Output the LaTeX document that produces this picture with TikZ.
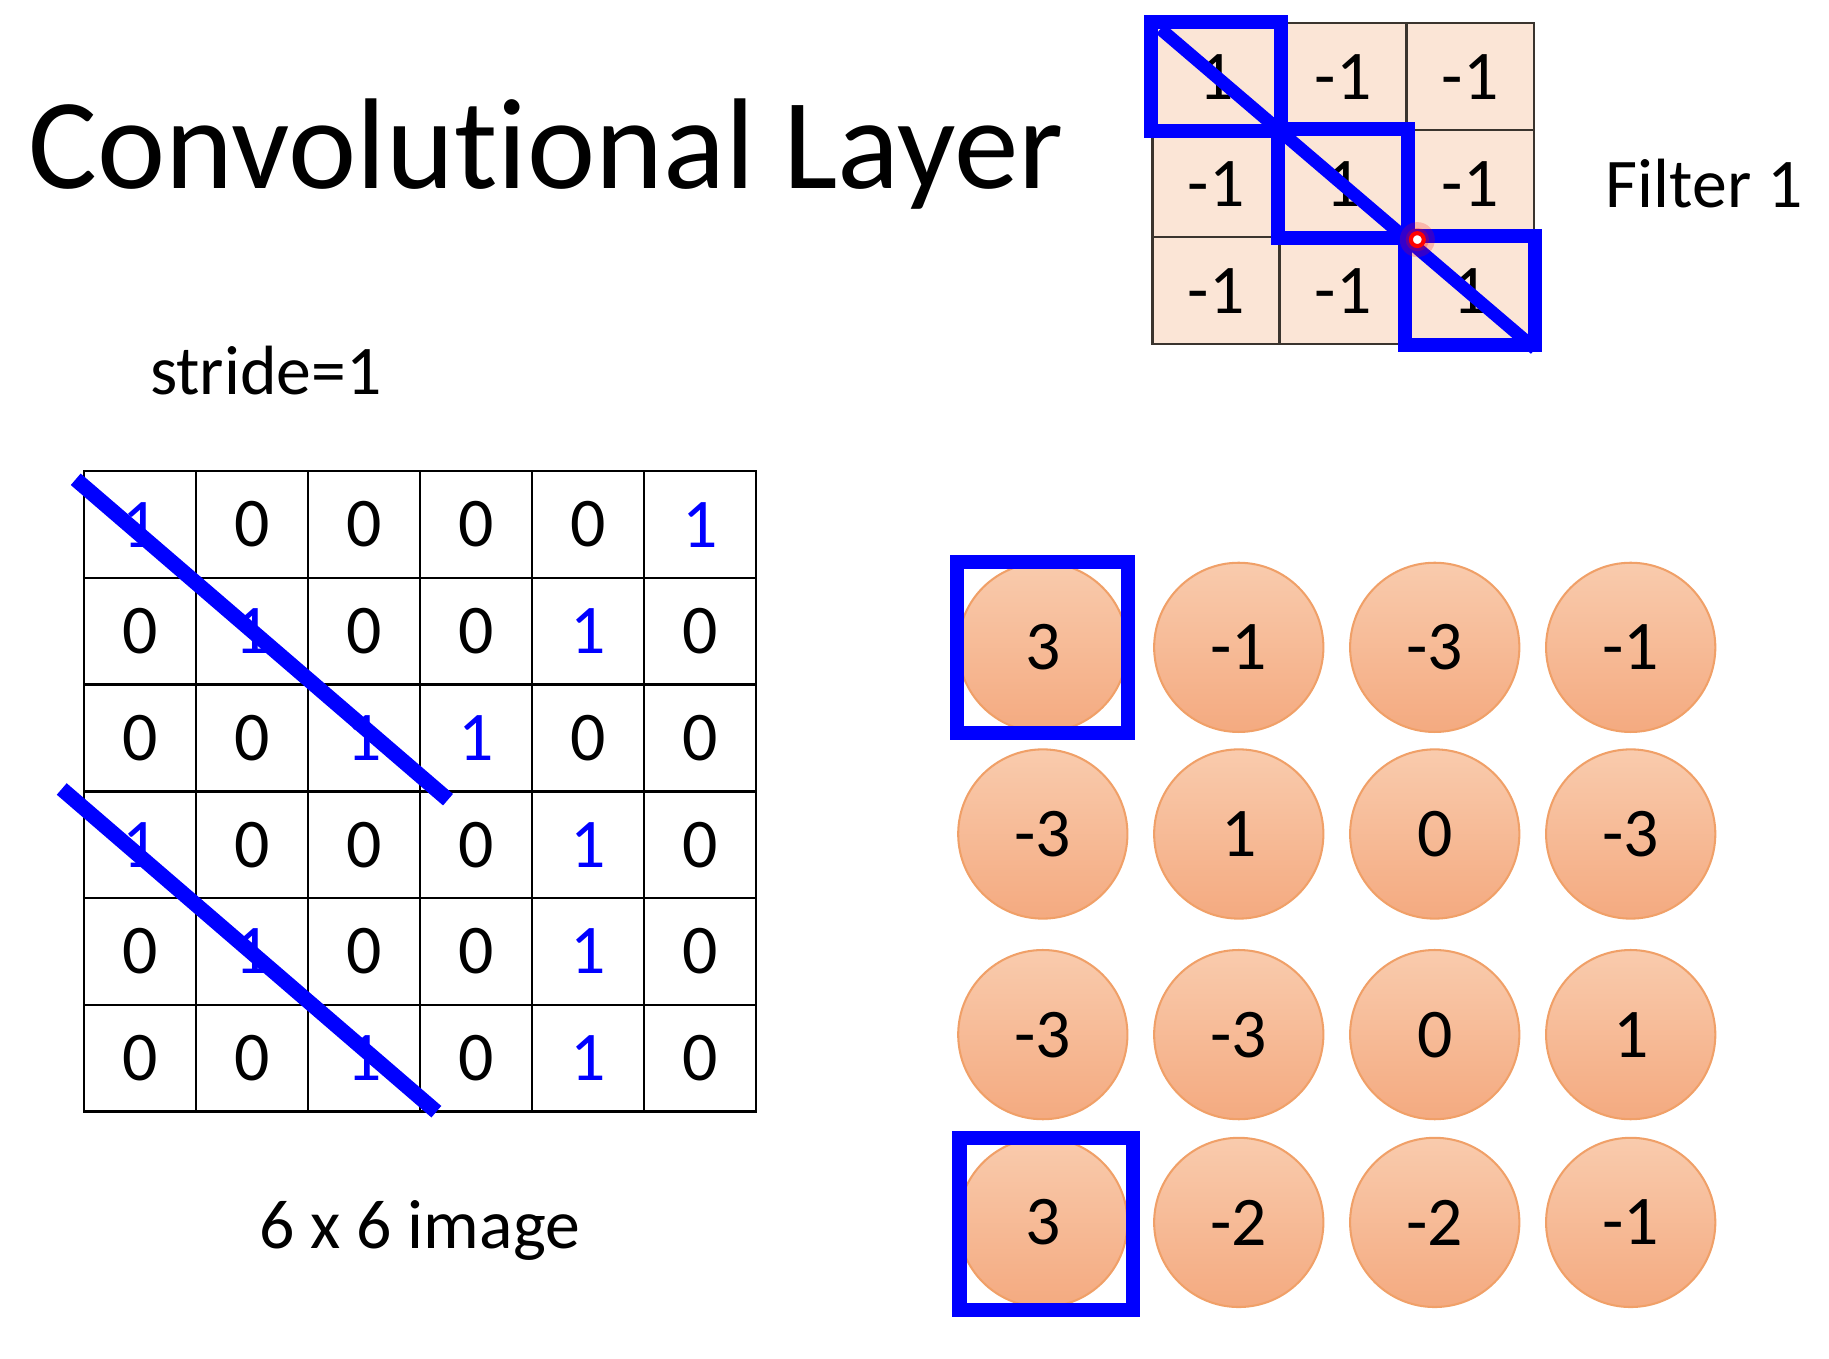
\documentclass[tikz,border=0pt]{standalone}
\usepackage{fontspec}
\setmainfont{Carlito}[Ligatures=NoCommon]
\usepackage{tikz}
\usetikzlibrary{calc}
\definecolor{cellpeach}{RGB}{251, 229, 214}
\definecolor{cellrule}{RGB}{58, 52, 46}
\definecolor{maplight}{RGB}{249, 203, 173}
\definecolor{mapdark}{RGB}{244, 170, 128}
\definecolor{mapedge}{RGB}{240, 160, 104}
\definecolor{markblue}{RGB}{0, 0, 255}
\newcommand{\titlesize}{\fontsize{31.5}{38}\selectfont}
\newcommand{\numsize}{\fontsize{17}{20}\selectfont}

\begin{document}
\begin{tikzpicture}[
    x=0.01cm, y=-0.01cm,
    imgcell/.style={rectangle, draw=black, line width=0.6pt, minimum width=0.96cm, minimum height=0.915cm, inner sep=0pt, font=\numsize},
    fltcell/.style={rectangle, draw=cellrule, fill=cellpeach, line width=0.6pt, minimum width=1.09cm, minimum height=0.917cm, inner sep=0pt, font=\numsize},
    mapnode/.style={circle, draw=mapedge, line width=0.5pt, top color=maplight, bottom color=mapdark, minimum size=1.45cm, inner sep=0pt, font=\numsize},
    markbox/.style={draw=markblue, line width=0.12cm},
    markline/.style={draw=markblue, line width=0.13cm},
    caption/.style={inner sep=0pt, font=\numsize},
    every node/.style={font=\numsize}
]
\path[use as bounding box] (0,0) rectangle (1568,1165);

% Title and captions
\node[caption, anchor=base west, font=\titlesize] (title) at (24,162) {Convolutional Layer};
\node[caption, anchor=base west] (stride) at (128,338) {stride=1};
\node[caption, anchor=base] (imgcap) at (360,1070) {6 x 6 image};
\node[caption, anchor=base west] (fltname) at (1376,178) {Filter 1};

% 6 x 6 image (ones in blue)
\foreach \row [count=\r] in {{1,0,0,0,0,1},{0,1,0,0,1,0},{0,0,1,1,0,0},{1,0,0,0,1,0},{0,1,0,0,1,0},{0,0,1,0,1,0}} {
    \foreach \v [count=\c] in \row {
        \node[imgcell] (img-\r-\c) at ({120+96*(\c-1)},{449.75+91.5*(\r-1)}) {\ifnum\v=1\relax\color{markblue}\fi\v};
    }
}

% Filter 1 (3 x 3)
\foreach \row [count=\r] in {{1,-1,-1},{-1,1,-1},{-1,-1,1}} {
    \foreach \v [count=\c] in \row {
        \node[fltcell] (flt-\r-\c) at ({1042.5+109*(\c-1)},{65.8+91.7*(\r-1)}) {\v};
    }
}

% Feature map (4 x 4)
\foreach \yy/\vals [count=\r] in {555/{3,-1,-3,-1}, 715/{-3,1,0,-3}, 887/{-3,-3,0,1}, 1048/{3,-2,-2,-1}} {
    \foreach \v [count=\c] in \vals {
        \node[mapnode] (out-\r-\c) at ({894+168*(\c-1)},\yy) {\v};
    }
}

% Diagonal strokes on the image
\draw[markline] ($(img-1-1.north west)+(-6,8)$) -- ($(img-3-3.south east)+(23,6)$);
\draw[markline] ($(img-4-1.north west)+(-18,-1)$) -- ($(img-6-3.south east)+(13,-1)$);

% Filter diagonal and boxes
\draw[markline, line width=0.11cm] ($(flt-1-1.north west)+(8,6)$) -- ($(flt-3-3.south east)+(0,3)$);
\foreach \i in {1,2,3} {
    \draw[markbox] (flt-\i-\i.north west) rectangle (flt-\i-\i.south east);
}
\fill[red, opacity=0.2] ($(flt-2-2.south east)+(8,1)$) circle (15);
\fill[red, opacity=0.25] ($(flt-2-2.south east)+(8,1)$) circle (10);
\node[circle, draw=red, fill=white, line width=0.035cm, minimum size=0.11cm, inner sep=0pt] (pin) at ($(flt-2-2.south east)+(8,1)$) {};

% Boxes on the feature map
\draw[markbox] (out-1-1.west |- out-1-1.north) rectangle (out-1-1.east |- out-1-1.south);
\draw[markbox] ($(out-4-1.west |- out-4-1.north)+(2,1)$) rectangle ($(out-4-1.east |- out-4-1.south)+(4,2)$);

\end{tikzpicture}
\end{document}
